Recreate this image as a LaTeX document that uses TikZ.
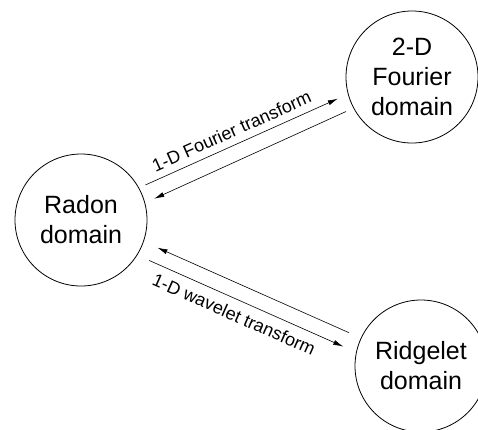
\documentclass[tikz,border=0pt]{standalone}
\usepackage{fontspec}
\setmainfont{Liberation Sans}
\usetikzlibrary{arrows.meta}

\begin{document}
\begin{tikzpicture}[
x=1pt, y=-1pt,
domnode/.style={
circle,
draw,
line width=0.8pt,
minimum size=132pt,
inner sep=0 pt,
align=center,
font=\fontsize{25}{30}\selectfont,
},
jump/.style={line width=0.6pt, -{Latex[length=10pt, width=5pt]}},
lbl/.style={font=\fontsize{18}{20}\selectfont, inner sep=0pt, sloped},
]

\useasboundingbox (0,0) rectangle (478,429);

% domains
\node [domnode] at (81,220) (radon) {Radon\\domain};
\node [domnode] at (412,77) (fourier) {2-D\\Fourier\\domain};
\node [domnode] at (421,366) (ridgelet) {Ridgelet\\domain};

% Radon <-> 2-D Fourier
\draw [jump, shorten <=7pt, shorten >=11pt]
(radon.29) -- node[lbl, above=7pt, pos=0.47] {1-D Fourier transform} (fourier.195);
\draw [jump, shorten <=8pt, shorten >=10pt]
(fourier.208) -- (radon.15);

% Radon <-> Ridgelet
\draw [jump, shorten <=13pt, shorten >=15pt]
(ridgelet.155.5) -- (radon.-19);
\draw [jump, shorten <=13pt, shorten >=14pt]
(radon.-32) -- node[lbl, below=8pt, pos=0.47] {1-D wavelet transform} (ridgelet.168.5);

\end{tikzpicture}
\end{document}
